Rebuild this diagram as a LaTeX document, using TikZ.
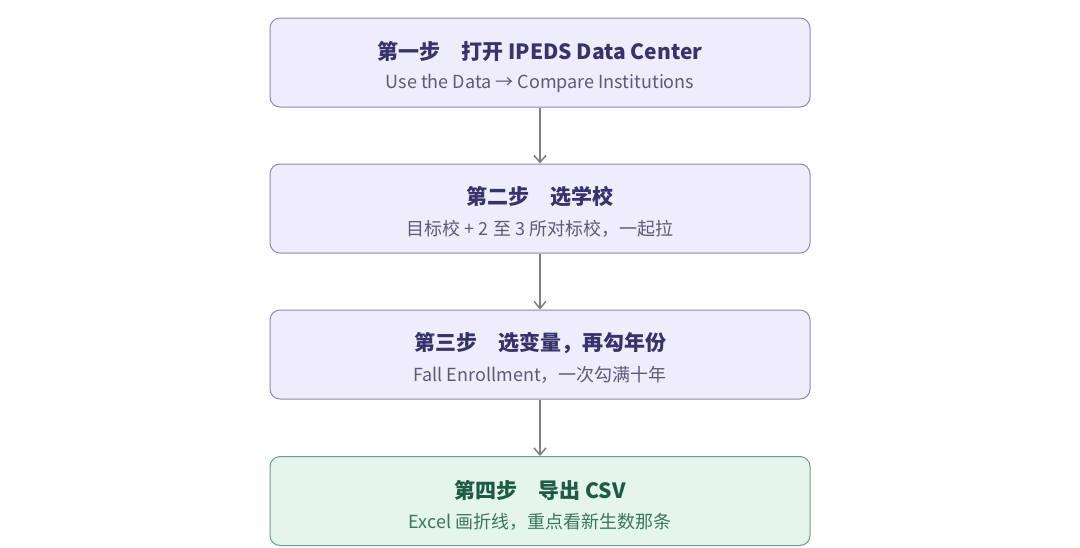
\documentclass[tikz,border=0pt]{standalone}
\usepackage{fontspec}
\setmainfont{Noto Sans CJK SC}
\usetikzlibrary{arrows.meta}
\definecolor{pfill}{HTML}{EFECFB}
\definecolor{pdraw}{HTML}{8F89B3}
\definecolor{ptitle}{HTML}{37336B}
\definecolor{psub}{HTML}{5C5A78}
\definecolor{gfill}{HTML}{E3F5EC}
\definecolor{gdraw}{HTML}{6A9E86}
\definecolor{gtitle}{HTML}{1E5A45}
\definecolor{gsub}{HTML}{3C765F}
\definecolor{arr}{HTML}{7F7F7F}
\begin{document}
\begin{tikzpicture}[x=1pt,y=-1pt,
 box/.style={draw=pdraw,fill=pfill,rounded corners=10pt,line width=1pt,minimum width=540pt,minimum height=89pt,inner sep=0pt},
 gbox/.style={box,draw=gdraw,fill=gfill},
 ttl/.style={font=\fontsize{21}{24}\selectfont\bfseries,text=ptitle},
 sub/.style={font=\fontsize{18}{21}\selectfont,text=psub},
 arrow/.style={draw=arr,line width=1.5pt,-{Straight Barb[length=7pt,width=12pt]}}]
\useasboundingbox (0,0) rectangle (1080,547);
\node[box] (b1) at (540,62.5) {};
\node[box] (b2) at (540,208.5) {};
\node[box] (b3) at (540,354.5) {};
\node[gbox] (b4) at (540,501) {};
\node[ttl] (t1) at (540,51) {第一步\quad 打开 IPEDS Data Center};
\node[sub] (s1) at (540,83) {Use the Data → Compare Institutions};
\node[ttl] (t2) at (540,197) {第二步\quad 选学校};
\node[sub] (s2) at (540,229) {目标校 + 2 至 3 所对标校，一起拉};
\node[ttl] (t3) at (540,343) {第三步\quad 选变量，再勾年份};
\node[sub] (s3) at (540,375) {Fall Enrollment，一次勾满十年};
\node[ttl,text=gtitle] (t4) at (540,490) {第四步\quad 导出 CSV};
\node[sub,text=gsub] (s4) at (540,522) {Excel 画折线，重点看新生数那条};
\draw[arrow] (b1.south) -- (b2.north);
\draw[arrow] (b2.south) -- (b3.north);
\draw[arrow] (b3.south) -- (b4.north);
\end{tikzpicture}
\end{document}
